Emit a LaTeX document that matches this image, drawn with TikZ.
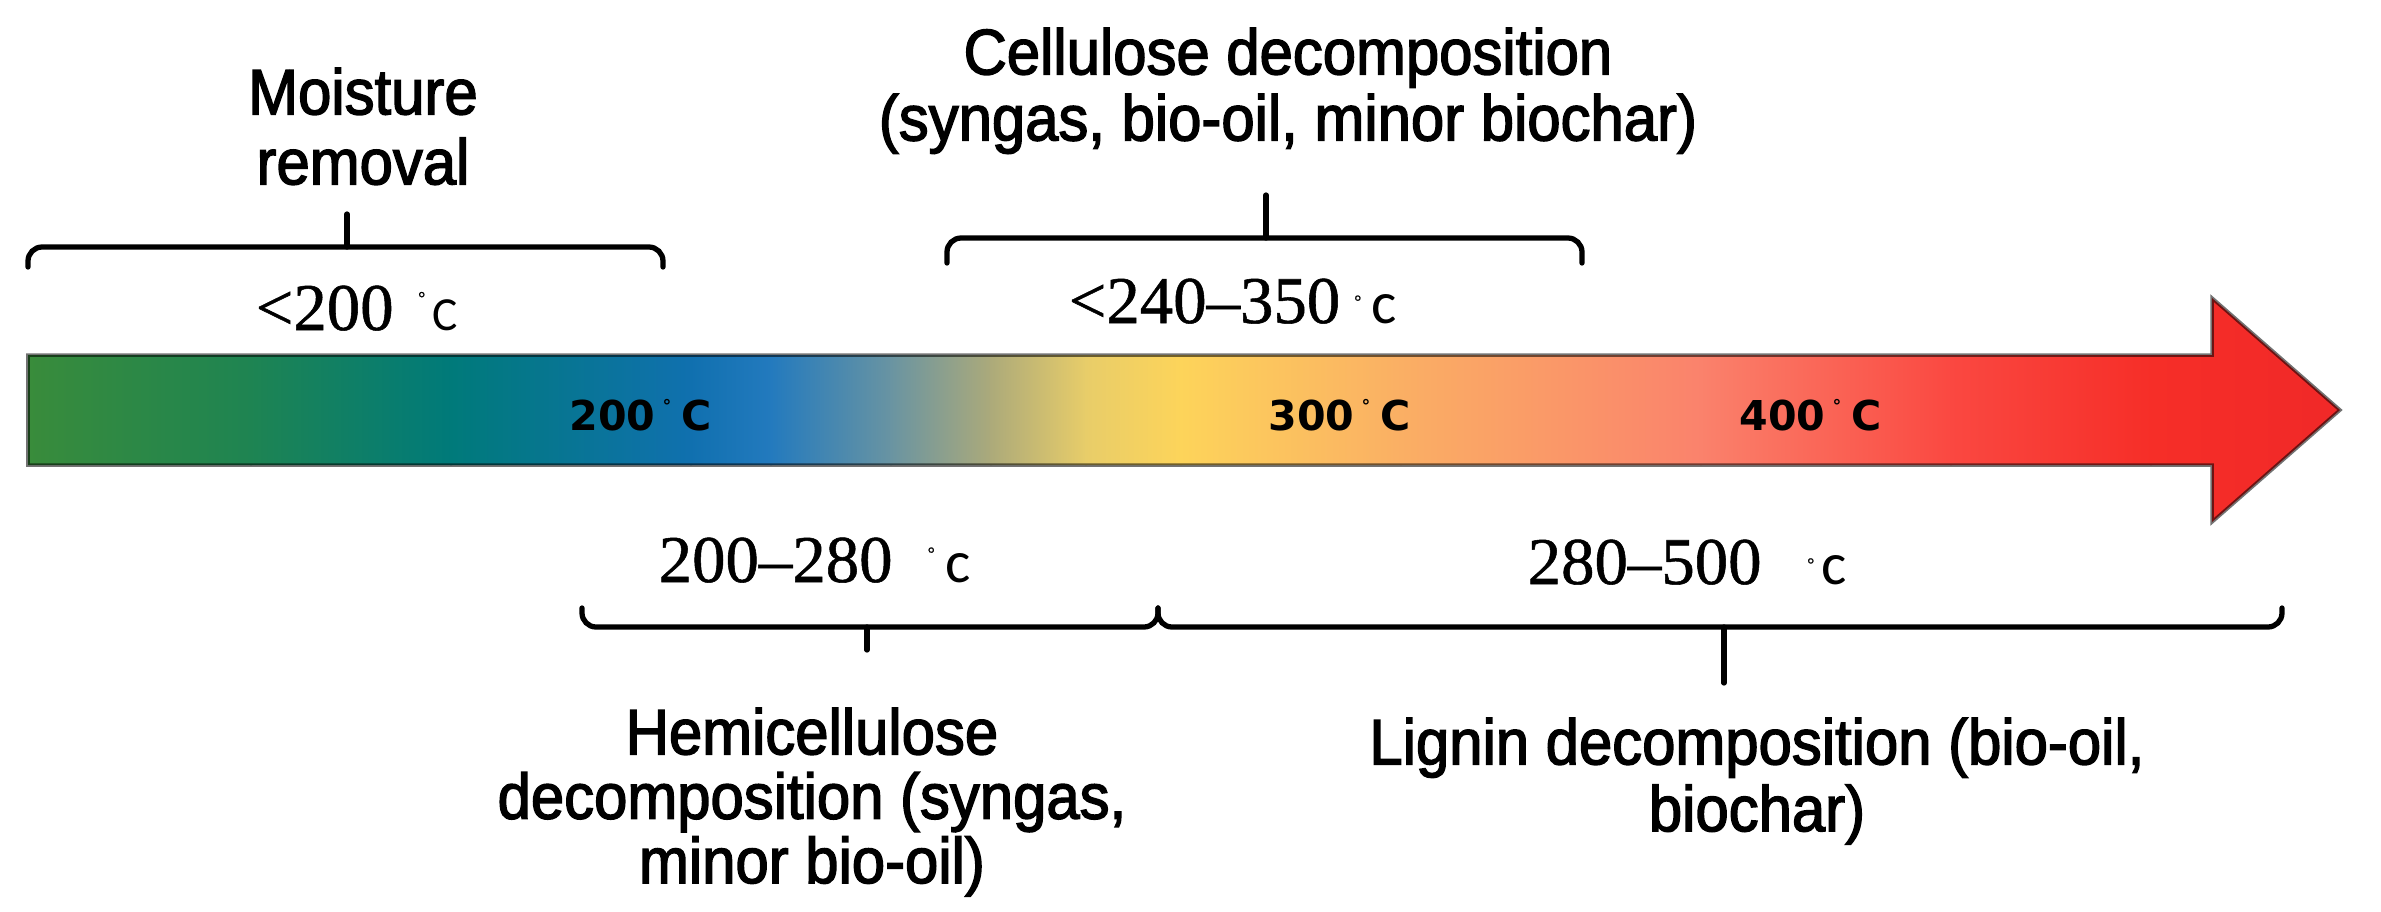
\documentclass[tikz,border=0pt]{standalone}
\usepackage{fontspec}
\setmainfont{Liberation Sans}
\newfontfamily\lsans{Liberation Sans}[FakeBold=2.2, FakeStretch=0.93]
\newfontfamily\lserif{Liberation Serif}[FakeBold=0.8]
\newfontfamily\dvs{DejaVu Sans}
\newfontfamily\carl{Carlito}
\newcommand\dgr[1]{\raisebox{#1}{\fontsize{5pt}{5pt}\selectfont °}}
\newcommand\cc[1]{{\carl\fontsize{17pt}{18pt}\selectfont #1}}

\definecolor{g0}{RGB}{58,140,58}
\definecolor{g1}{RGB}{30,132,82}
\definecolor{t1}{RGB}{0,122,122}
\definecolor{b1}{RGB}{16,112,175}
\definecolor{b2}{RGB}{35,122,190}
\definecolor{m1}{RGB}{105,148,162}
\definecolor{m2}{RGB}{172,170,122}
\definecolor{y0}{RGB}{232,205,105}
\definecolor{y1}{RGB}{253,212,90}
\definecolor{o1}{RGB}{250,175,100}
\definecolor{s1}{RGB}{250,130,108}
\definecolor{r1}{RGB}{250,72,65}
\definecolor{r2}{RGB}{246,46,40}
\definecolor{r3}{RGB}{240,40,40}

\begin{document}
\begin{tikzpicture}[x=0.01cm,y=-0.01cm,
  lab/.style={font=\lsans\fontsize{18.3pt}{18.8pt}\selectfont, align=center, inner sep=0pt, anchor=north},
  rng/.style={font=\lserif\fontsize{19pt}{21pt}\selectfont, inner sep=0pt, anchor=base west},
  barlab/.style={font=\dvs\bfseries\fontsize{11.7pt}{13pt}\selectfont, inner sep=0pt, anchor=base west},
  brace/.style={line width=1.5pt, rounded corners=4pt, line cap=round},
  outline/.style={draw=black, draw opacity=0.55, line width=1pt, line join=miter},
]
\fill[white] (0,0) rectangle (2381,911);
\useasboundingbox (0,0) rectangle (2381,911);

% gradient arrow
\begin{scope}
\clip (28,355) -- (2212,355) -- (2212,298) -- (2340,410) -- (2212,522) -- (2212,465) -- (28,465) -- cycle;
\foreach \a/\b/\ca/\cb in {20/250/g0/g1, 250/450/g1/t1, 450/690/t1/b1, 690/770/b1/b2, 770/890/b2/m1, 890/990/m1/m2, 990/1085/m2/y0, 1085/1180/y0/y1, 1180/1400/y1/o1, 1400/1700/o1/s1, 1700/1950/s1/r1, 1950/2150/r1/r2, 2150/2350/r2/r3}
  \shade[left color=\ca, right color=\cb] (\a,290) rectangle (\b+2,530);
\end{scope}
\draw[outline] (28,355) -- (2212,355) -- (2212,298) -- (2340,410) -- (2212,522) -- (2212,465) -- (28,465) -- cycle;

% bar labels
\node[barlab] (t200) at (569,430) {200\hspace{2pt}\dgr{5pt}\hspace{3pt}C};
\node[barlab] (t300) at (1268,430) {300\hspace{2pt}\dgr{5pt}\hspace{3pt}C};
\node[barlab] (t400) at (1739,430) {400\hspace{2pt}\dgr{5pt}\hspace{3pt}C};

% top brackets
\coordinate (m1) at (28,267); \coordinate (mm) at (347,247); \coordinate (m2) at (663,267); \coordinate (mt) at (347,214);
\draw[brace] (m1) |- (mm) -| (m2);
\draw[brace] (mm) -- (mt);
\coordinate (c1) at (947,263); \coordinate (cm) at (1266,238); \coordinate (c2) at (1582,263); \coordinate (ct) at (1266,195);
\draw[brace] (c1) |- (cm) -| (c2);
\draw[brace] (cm) -- (ct);

% bottom brackets
\coordinate (h1) at (582,608); \coordinate (hm) at (867,627); \coordinate (h2) at (1158,608); \coordinate (ht) at (867,650);
\draw[brace] (h1) |- (hm) -| (h2);
\draw[brace] (hm) -- (ht);
\coordinate (l1) at (1158,608); \coordinate (lm) at (1724,627); \coordinate (l2) at (2282,608); \coordinate (lt) at (1724,683);
\draw[brace] (l1) |- (lm) -| (l2);
\draw[brace] (lm) -- (lt);

% range labels
\node[rng] (r200) at (255,330) {<200\hspace{7pt}\dgr{7.5pt}\hspace{2pt}{\carl\fontsize{13.5pt}{14pt}\selectfont C}};
\node[rng] (r240) at (1068,323) {<240–350\hspace{4pt}\dgr{4.5pt}\hspace{3pt}\cc{c}};
\node[rng] (r280) at (658,582) {200–280\hspace{10pt}\dgr{6.5pt}\hspace{3pt}\cc{c}};
\node[rng] (r500) at (1527,584) {280–500\hspace{13pt}\dgr{4pt}\hspace{2pt}\cc{c}};

% descriptive labels
\node[lab, font=\lsans\fontsize{18.3pt}{19.9pt}\selectfont] (moist) at (363,67) {Moisture\\removal};
\node[lab] (cell) at (1288,27) {Cellulose decomposition\\(syngas, bio-oil, minor biochar)};
\node[lab, font=\lsans\fontsize{18.3pt}{18.3pt}\selectfont] (hemi) at (812,707) {Hemicellulose\\decomposition (syngas,\\minor bio-oil)};
\node[lab, font=\lsans\fontsize{18.3pt}{19pt}\selectfont] (lig) at (1757,717) {Lignin decomposition (bio-oil,\\biochar)};
\end{tikzpicture}
\end{document}
